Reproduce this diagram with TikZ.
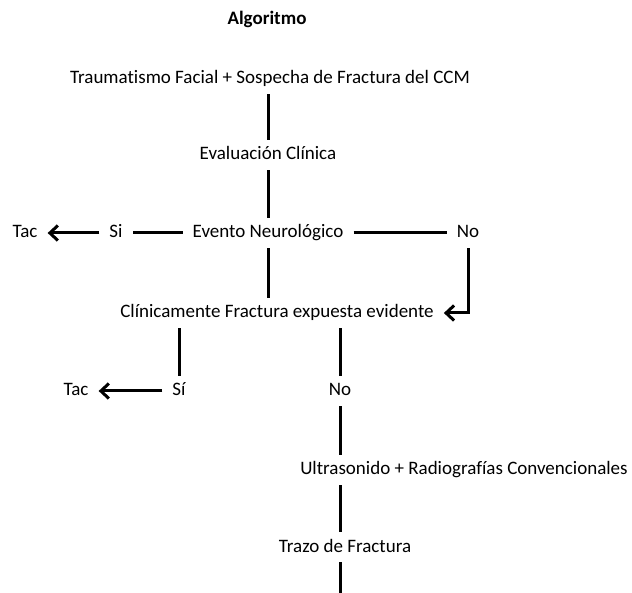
\documentclass[tikz,border=0pt]{standalone}
\usepackage{fontspec}
\setmainfont{Carlito}[Ligatures=NoCommon]
\usetikzlibrary{arrows.meta}

\begin{document}
\begin{tikzpicture}[x=1pt, y=-1pt,
  txt/.style={inner xsep=10pt, inner ysep=6pt, text height=14pt, text depth=4pt,
              font=\fontsize{19}{22}\selectfont},
  link/.style={line width=3pt},
  >={Straight Barb[length=8pt, width=15pt]}]
\useasboundingbox (0,0) rectangle (632,593);
\node[txt, font=\fontsize{19}{22}\selectfont\bfseries] (title) at (267,20) {Algoritmo};
\node[txt] (trauma) at (270,79) {Traumatismo Facial + Sospecha de Fractura del CCM};
\node[txt] (evalc) at (268,155) {Evaluación Clínica};
\node[txt] (evento) at (268,233) {Evento Neurológico};
\node[txt] (siA) at (116,233) {Si};
\node[txt] (tacA) at (25,233) {Tac};
\node[txt] (noA) at (468,233) {No};
\node[txt] (clinica) at (277,313) {Clínicamente Fractura expuesta evidente};
\node[txt] (siB) at (179,391) {Sí};
\node[txt] (tacB) at (76,391) {Tac};
\node[txt] (noB) at (340,391) {No};
\node[txt] (ultra) at (464,470) {Ultrasonido + Radiografías Convencionales};
\node[txt] (trazo) at (345,547) {Trazo de Fractura};
\coordinate (fin) at (340,593);
% tronco principal
\draw[link] (trauma.south -| evalc) -- (evalc);
\draw[link] (evalc) -- (evento);
\draw[link] (evento) -- (siA);
\draw[link, ->] (siA) -- (tacA);
\draw[link] (evento) -- (noA);
\draw[link, ->] (noA) |- (clinica);
\draw[link] (evento) -- (evento |- clinica.north);
% ramas de la fractura
\draw[link] (siB |- clinica.south) -- (siB);
\draw[link, ->] (siB) -- (tacB);
\draw[link] (noB |- clinica.south) -- (noB);
\draw[link] (noB) -- (noB |- ultra.north);
\draw[link] (noB |- ultra.south) -- (noB |- trazo.north);
\draw[link] (fin |- trazo.south) -- (fin);
\end{tikzpicture}
\end{document}
